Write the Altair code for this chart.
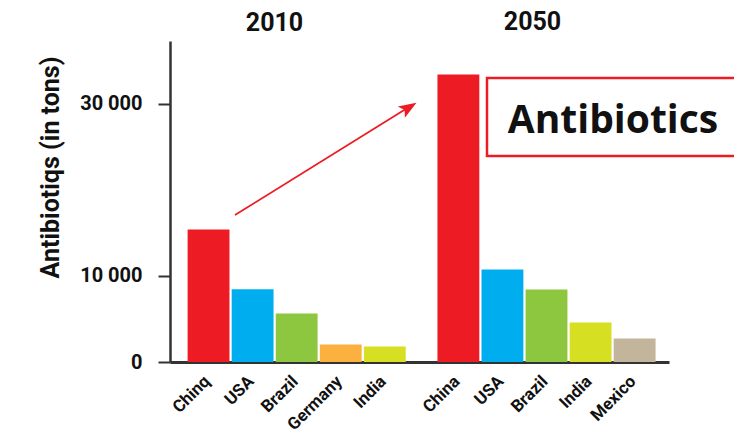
import altair as alt
import pandas as pd

countries_2010 = ["Chinq", "USA", "Brazil", "Germany", "India"]
values_2010 = [15400, 8450, 5650, 2030, 1800]
colors_2010 = ["#ED1C24", "#00AEEF", "#8DC63F", "#FBB040", "#D7DF23"]

countries_2050 = ["China", "USA", "Brazil", "India", "Mexico"]
values_2050 = [33400, 10750, 8430, 4600, 2730]
colors_2050 = ["#ED1C24", "#00AEEF", "#8DC63F", "#D7DF23", "#C2B59B"]

y_ticks = [0, 10000, 30000]
year_titles = ["2010", "2050"]
y_title = "Antibiotiqs (in tons)"
box_text = "Antibiotics"

rows = []
for i, (c, v, col) in enumerate(zip(countries_2010, values_2010, colors_2010)):
    rows.append({"label": c, "value": v, "color": col, "year": "2010", "idx": i})
for i, (c, v, col) in enumerate(zip(countries_2050, values_2050, colors_2050)):
    rows.append({"label": c, "value": v, "color": col, "year": "2050", "idx": i + 5})
df = pd.DataFrame(rows)

FONT = "Roboto, Liberation Sans, sans-serif"
INK = "#111111"
RED = "#ED1C24"

base = alt.Chart(df).transform_calculate(
    pos="datum.idx + (datum.year == '2050' ? 0.67 : 0)"
).transform_calculate(
    x0="datum.pos - 0.475", x1="datum.pos + 0.475", lx="datum.pos - 0.03"
)

xscale = alt.Scale(domain=[-0.875, 10.45], nice=False, zero=False)
yscale = alt.Scale(domain=[0, 37300], nice=False)

bars = base.mark_bar().encode(
    x=alt.X("x0:Q", scale=xscale,
            axis=alt.Axis(labels=False, ticks=False, grid=False, title=None,
                          domainWidth=3, domainColor="#333333")),
    x2="x1:Q",
    y=alt.Y("value:Q", scale=yscale,
            axis=alt.Axis(values=y_ticks, grid=False, title=y_title,
                          labelExpr="replace(format(datum.value, ','), ',', ' ')",
                          labelFont=FONT, labelFontSize=20, labelFontWeight="bold",
                          labelColor=INK, labelPadding=16,
                          tickSize=12, tickWidth=2, tickColor="#333333",
                          domainWidth=2.5, domainColor="#333333",
                          titleFont=FONT, titleFontSize=25, titleFontWeight="bold",
                          titleColor=INK, titleAngle=270,
                          titleX=-120, titleY=126, titleAlign="center",
                          titleBaseline="middle")),
    y2=alt.datum(0),
    color=alt.Color("color:N", scale=None),
)

labels = base.mark_text(angle=315, align="right", baseline="middle",
                        font=FONT, fontSize=17, fontWeight="bold",
                        color=INK).encode(
    x=alt.X("lx:Q", scale=xscale),
    y=alt.value(338),
    text="label:N",
)

tdf = pd.DataFrame({"t": year_titles})
title_a = alt.Chart(tdf).mark_text(font=FONT, fontSize=25, fontWeight="bold",
                                   baseline="alphabetic", align="center",
                                   color=INK).encode(
    x=alt.value(104.5), y=alt.value(-10), text="t:N",
).transform_filter("datum.t == '2010'")
title_b = alt.Chart(tdf).mark_text(font=FONT, fontSize=25, fontWeight="bold",
                                   baseline="alphabetic", align="center",
                                   color=INK).encode(
    x=alt.value(362.5), y=alt.value(-11), text="t:N",
).transform_filter("datum.t == '2050'")

one = pd.DataFrame({"a": [0]})
arrow = alt.Chart(one).mark_rule(color=RED, strokeWidth=1.8).encode(
    x=alt.value(65), y=alt.value(174), x2=alt.value(239), y2=alt.value(66),
)
head = alt.Chart(one).mark_point(
    shape="M0,-1L0.6,0.6L0,0.25L-0.6,0.6Z", filled=True, color=RED,
    opacity=1, size=500, angle=58, strokeWidth=0).encode(
    x=alt.value(237), y=alt.value(67.6),
)

box = alt.Chart(one).mark_rect(fill="white", stroke=RED, strokeWidth=2.5).encode(
    x=alt.value(317), x2=alt.value(640), y=alt.value(37), y2=alt.value(115),
)
btext = alt.Chart(pd.DataFrame({"t": [box_text]})).mark_text(
    font="Open Sans", fontSize=39, fontWeight="bold", align="center",
    baseline="alphabetic", color=INK).encode(
    x=alt.value(443), y=alt.value(92), text="t:N",
)

chart = alt.layer(bars, labels, title_a, title_b, arrow, head, box, btext).properties(
    width=499, height=321,
    padding={"left": 162, "top": 33, "right": 65, "bottom": 76},
    autosize=alt.AutoSizeParams(type="none"),
    background="white",
).configure_view(stroke=None)

chart.save("out.html", embed_options={"renderer": "svg", "actions": False})
